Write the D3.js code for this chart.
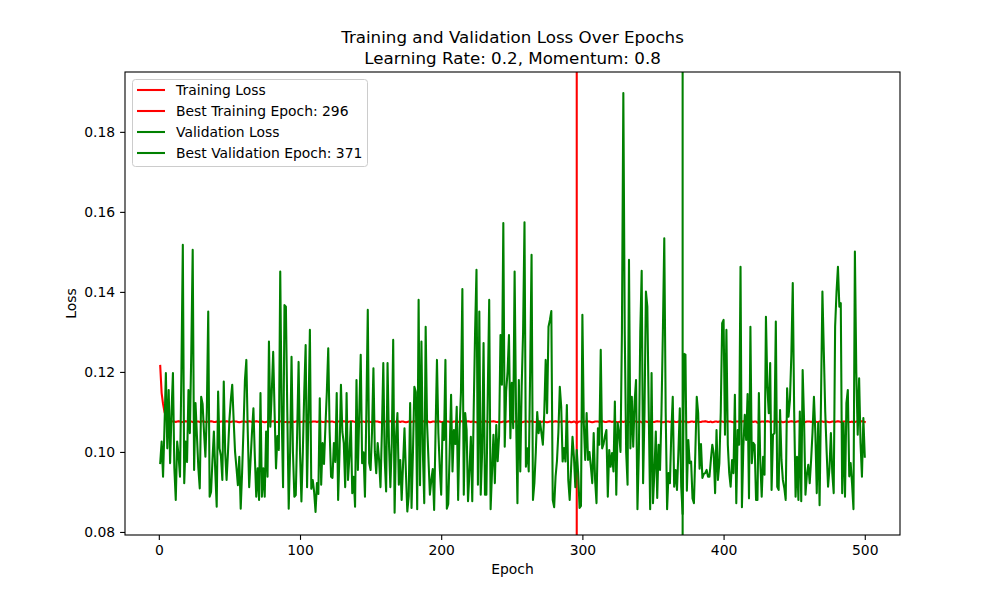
<!DOCTYPE html>
<html>
<head>
<meta charset="utf-8">
<script src="https://cdn.jsdelivr.net/npm/d3@7"></script>
<style>
  body { margin: 0; background: #fff; }
  svg { display: block; font-family: "DejaVu Sans", sans-serif; }
</style>
</head>
<body>
<svg id="chart" width="1000" height="600"></svg>
<script>
// ---------- data ----------
const titleLines = ["Training and Validation Loss Over Epochs", "Learning Rate: 0.2, Momentum: 0.8"];
const xLabel = "Epoch";
const yLabel = "Loss";
const xTicks = [0, 100, 200, 300, 400, 500];
const yTicks = [0.08, 0.10, 0.12, 0.14, 0.16, 0.18];
const bestTrainingEpoch = 296;
const bestValidationEpoch = 371;
const legendLabels = ["Training Loss", "Best Training Epoch: 296", "Validation Loss", "Best Validation Epoch: 371"];

const trainingLoss = [
.1215,.1147,.1120,.1100,.1090,.1084,.1080,.1078,.1077,.1076,
.1076,.1075,.1076,.1077,.1076,.1075,.1075,.1076,.1077,.1076,
.1075,.1076,.1076,.1075,.1074,.1075,.1076,.1076,.1075,.1076,
.1077,.1076,.1075,.1075,.1076,.1076,.1077,.1076,.1075,.1075,
.1076,.1074,.1075,.1076,.1076,.1075,.1076,.1077,.1076,.1075,
.1075,.1076,.1077,.1076,.1076,.1075,.1074,.1075,.1076,.1076,
.1076,.1075,.1076,.1077,.1076,.1075,.1075,.1076,.1077,.1076,
.1075,.1076,.1076,.1075,.1074,.1075,.1076,.1076,.1075,.1076,
.1077,.1076,.1075,.1075,.1076,.1076,.1077,.1076,.1075,.1075,
.1076,.1074,.1075,.1076,.1076,.1075,.1076,.1077,.1076,.1075,
.1075,.1076,.1077,.1076,.1076,.1075,.1074,.1075,.1076,.1076,
.1076,.1075,.1076,.1077,.1076,.1075,.1075,.1076,.1077,.1076,
.1075,.1076,.1076,.1075,.1074,.1075,.1076,.1076,.1075,.1076,
.1077,.1076,.1075,.1075,.1076,.1076,.1077,.1076,.1075,.1075,
.1076,.1074,.1075,.1076,.1076,.1075,.1076,.1077,.1076,.1075,
.1075,.1076,.1077,.1076,.1076,.1075,.1074,.1075,.1076,.1076,
.1076,.1075,.1076,.1077,.1076,.1075,.1075,.1076,.1077,.1076,
.1075,.1076,.1076,.1075,.1074,.1075,.1076,.1076,.1075,.1076,
.1077,.1076,.1075,.1075,.1076,.1076,.1077,.1076,.1075,.1075,
.1076,.1074,.1075,.1076,.1076,.1075,.1076,.1077,.1076,.1075,
.1075,.1076,.1077,.1076,.1076,.1075,.1074,.1075,.1076,.1076,
.1076,.1075,.1076,.1077,.1076,.1075,.1075,.1076,.1077,.1076,
.1075,.1076,.1076,.1075,.1074,.1075,.1076,.1076,.1075,.1076,
.1077,.1076,.1075,.1075,.1076,.1076,.1077,.1076,.1075,.1075,
.1076,.1074,.1075,.1076,.1076,.1075,.1076,.1077,.1076,.1075,
.1075,.1076,.1077,.1076,.1076,.1075,.1074,.1075,.1076,.1076,
.1076,.1075,.1076,.1077,.1076,.1075,.1075,.1076,.1077,.1076,
.1075,.1076,.1076,.1075,.1074,.1075,.1076,.1076,.1075,.1076,
.1077,.1076,.1075,.1075,.1076,.1076,.1077,.1076,.1075,.1075,
.1076,.1074,.1075,.1076,.1075,.1072,.1075,.1076,.1076,.1075,
.1075,.1076,.1077,.1076,.1076,.1075,.1074,.1075,.1076,.1076,
.1076,.1075,.1076,.1077,.1076,.1075,.1075,.1076,.1077,.1076,
.1075,.1076,.1076,.1075,.1074,.1075,.1076,.1076,.1075,.1076,
.1077,.1076,.1075,.1075,.1076,.1076,.1077,.1076,.1075,.1075,
.1076,.1074,.1075,.1076,.1076,.1075,.1076,.1077,.1076,.1075,
.1075,.1076,.1077,.1076,.1076,.1075,.1074,.1075,.1076,.1076,
.1076,.1075,.1076,.1077,.1076,.1075,.1075,.1076,.1077,.1076,
.1075,.1076,.1076,.1075,.1074,.1075,.1076,.1076,.1075,.1076,
.1077,.1076,.1075,.1075,.1076,.1076,.1077,.1076,.1075,.1075,
.1076,.1074,.1075,.1076,.1076,.1075,.1076,.1077,.1076,.1075,
.1075,.1076,.1077,.1076,.1076,.1075,.1074,.1075,.1076,.1076,
.1076,.1075,.1076,.1077,.1076,.1075,.1075,.1076,.1077,.1076,
.1075,.1076,.1076,.1073,.1074,.1075,.1076,.1076,.1075,.1076,
.1077,.1076,.1075,.1075,.1076,.1076,.1077,.1076,.1075,.1075,
.1076,.1074,.1075,.1076,.1076,.1075,.1076,.1077,.1076,.1075,
.1075,.1076,.1077,.1076,.1076,.1075,.1074,.1075,.1076,.1076,
.1076,.1075,.1076,.1077,.1076,.1075,.1075,.1076,.1077,.1076,
.1075,.1076,.1076,.1075,.1074,.1075,.1076,.1076,.1075,.1076,
.1077,.1076,.1075,.1075,.1076,.1076,.1077,.1076,.1075,.1075,
.1076,.1074,.1075,.1076,.1076,.1075,.1076,.1077,.1076,.1075
];

const validationLoss = [
.0972,.1026,.0938,.1060,.1197,.1009,.1155,.0972,.1100,.1197,
.0960,.0880,.1026,.0990,.0938,.1200,.1518,.0922,.1026,.0975,
.1155,.1047,.1250,.1505,.0955,.1122,.1040,.0960,.0909,.1138,
.1120,.1050,.0988,.1100,.1351,.0888,.0900,.0980,.1051,.0950,
.0863,.1151,.1009,.0990,.0930,.1176,.1000,.0930,.1000,.1080,
.1130,.1168,.1080,.1000,.0960,.0917,.0988,.0858,.0950,.1060,
.1180,.1230,.1050,.0912,.0980,.1050,.1109,.0990,.0888,.0959,
.0880,.1147,.0888,.0959,.0888,.1051,.0938,.1276,.1063,.1150,
.1250,.1100,.0959,.1040,.1005,.1451,.1100,.0912,.1367,.1363,
.1100,.0858,.1000,.1238,.1000,.0888,.0892,.1050,.1225,.1000,
.0876,.1000,.1150,.1267,.0912,.1100,.1305,.0908,.0930,.0900,
.0850,.0922,.0895,.1134,.0918,.1022,.0970,.1063,.1150,.1259,
.1050,.0938,.0935,.1022,.0975,.1147,.0880,.1000,.1168,.1050,
.1022,.0912,.1147,.0930,.0990,.1076,.0897,.0938,.0863,.1180,
.0955,.1100,.1243,.0972,.0999,.0888,.1100,.1355,.0972,.0955,
.1050,.1209,.1000,.0947,.1022,.0980,.0912,.1050,.1222,.0980,
.0901,.1222,.1022,.0912,.1022,.1280,.0848,.1038,.1097,.0918,
.0980,.0880,.0970,.1059,.0950,.0851,.0890,.1122,.0860,.1000,
.1163,.1150,.0857,.1380,.0917,.1276,.1000,.0872,.1313,.1070,
.0980,.0893,.0930,.0957,.0855,.1050,.1230,.1047,.0960,.0893,
.1073,.1030,.1230,.0858,.0870,.1000,.1143,.0951,.1055,.1020,
.1113,.0880,.1055,.1150,.1407,.0893,.1097,.1055,.0877,.0950,
.1038,.0877,.1100,.1300,.1455,.0918,.1351,.0893,.1000,.1272,
.0893,.0893,.1150,.1380,.0857,.0950,.1043,.0922,.1067,.0977,
.1040,.1292,.1168,.1572,.1013,.1151,.1200,.1292,.1034,.1173,
.1059,.1451,.1100,.0872,.1180,.0951,.1163,.1300,.1574,.0963,
.1009,.0951,.1200,.1493,.0880,.0922,.1000,.1100,.1047,.1076,
.1047,.1018,.1097,.1230,.1097,.1313,.1330,.1352,.0880,.0862,
.0938,.0978,.1050,.1163,.1113,.0976,.1010,.0976,.1117,.0930,
.0880,.0960,.1038,.0988,.0912,.1005,.0947,.0860,.0865,.1343,
.1072,.0980,.1097,.0980,.1000,.0963,.0922,.1047,.0930,.0872,
.1059,.1018,.1255,.1009,.1020,.1040,.1055,.0888,.1005,.0963,
.0997,.0951,.1126,.0893,.1072,.1047,.1000,.1300,.1897,.1300,
.1000,.0918,.1480,.1009,.1138,.1013,.1126,.1180,.0857,.1000,
.1300,.1453,.0922,.1100,.1401,.1363,.1100,.0857,.1197,.0872,
.0950,.1051,.0885,.1018,.0955,.1097,.1300,.1534,.1100,.0857,
.0947,.0922,.1050,.1138,.0913,.0955,.0905,.1000,.1109,.0913,
.0845,.1245,.1243,.0903,.1030,.0972,.0976,.0884,.0872,.1000,
.1138,.1097,.0958,.1020,.0935,.0945,.0947,.0955,.0938,.0938,
.0980,.1018,.0997,.0897,.1055,.0930,.0972,.1100,.1322,.1330,
.1043,.1305,.1018,.0947,.0913,.0980,.0947,.1143,.0872,.1055,
.1018,.1463,.0862,.1013,.1093,.1030,.1145,.0884,.1313,.0972,
.1023,.1018,.0880,.0880,.1147,.0976,.0888,.0988,.0943,.1338,
.1163,.1097,.1222,.0905,.1043,.1047,.1326,.0913,.0905,.1105,
.0980,.0930,.0910,.0880,.1159,.1088,.1130,.1243,.1422,.1100,
.0888,.0988,.0880,.1101,.0877,.1205,.1080,.0893,.0943,.0968,
.0922,.0980,.1050,.1138,.1047,.0897,.1072,.0867,.1130,.1401,
.1250,.1100,.1000,.0913,.0960,.1047,.0947,.0897,.1313,.1400,
.1463,.1363,.1372,.0897,.1072,.0888,.1122,.1155,.0939,.0972,
.0920,.0857,.1501,.1200,.1043,.1184,.1022,.0938,.1085,.0988
];

const epochs = trainingLoss.map((_, i) => i + 1);

// ---------- layout ----------
const W = 1000, H = 600;
const m = { left: 125, right: 900, top: 72, bottom: 535 };
const svg = d3.select("#chart");

const xExt = d3.extent(epochs);
const xPad = (xExt[1] - xExt[0]) * 0.05;
const allY = trainingLoss.concat(validationLoss);
const yExt = d3.extent(allY);
const yPad = (yExt[1] - yExt[0]) * 0.05;

const x = d3.scaleLinear().domain([xExt[0] - xPad, xExt[1] + xPad]).range([m.left, m.right]);
const y = d3.scaleLinear().domain([yExt[0] - yPad, yExt[1] + yPad]).range([m.bottom, m.top]);

const fontTick = 13.9;

// clip
svg.append("defs").append("clipPath").attr("id", "clip")
  .append("rect").attr("x", m.left).attr("y", m.top)
  .attr("width", m.right - m.left).attr("height", m.bottom - m.top);

const plot = svg.append("g").attr("clip-path", "url(#clip)");

const line = d3.line().x((d, i) => x(epochs[i])).y(d => y(d));

plot.append("path").datum(trainingLoss)
  .attr("d", line).attr("fill", "none").attr("stroke", "#ff0000")
  .attr("stroke-width", 2.08).attr("stroke-linejoin", "round").attr("stroke-linecap", "square");

plot.append("line")
  .attr("x1", x(bestTrainingEpoch)).attr("x2", x(bestTrainingEpoch))
  .attr("y1", m.top).attr("y2", m.bottom)
  .attr("stroke", "#ff0000").attr("stroke-width", 2.08);

plot.append("path").datum(validationLoss)
  .attr("d", line).attr("fill", "none").attr("stroke", "#008000")
  .attr("stroke-width", 2.08).attr("stroke-linejoin", "round").attr("stroke-linecap", "square");

plot.append("line")
  .attr("x1", x(bestValidationEpoch)).attr("x2", x(bestValidationEpoch))
  .attr("y1", m.top).attr("y2", m.bottom)
  .attr("stroke", "#008000").attr("stroke-width", 2.08);

// axes
const xAxis = d3.axisBottom(x).tickValues(xTicks).tickSize(4.9).tickPadding(4.9).tickFormat(d3.format("d"));
const yAxis = d3.axisLeft(y).tickValues(yTicks).tickSize(4.9).tickPadding(4.9).tickFormat(d3.format(".2f"));

const gx = svg.append("g").attr("transform", `translate(0,${m.bottom})`).call(xAxis);
const gy = svg.append("g").attr("transform", `translate(${m.left},0)`).call(yAxis);
[gx, gy].forEach(g => {
  g.select(".domain").remove();
  g.selectAll(".tick line").attr("stroke", "#000").attr("stroke-width", 1.1);
  g.selectAll(".tick text").attr("fill", "#000").style("font-size", fontTick + "px")
    .style("font-family", "'DejaVu Sans', sans-serif");
});

// spines
svg.append("rect").attr("x", m.left).attr("y", m.top)
  .attr("width", m.right - m.left).attr("height", m.bottom - m.top)
  .attr("fill", "none").attr("stroke", "#000").attr("stroke-width", 1.1);

// labels
svg.append("text").attr("x", (m.left + m.right) / 2).attr("y", 574)
  .attr("text-anchor", "middle").style("font-size", fontTick + "px").text(xLabel);
svg.append("text").attr("transform", `translate(76,${(m.top + m.bottom) / 2}) rotate(-90)`)
  .attr("text-anchor", "middle").style("font-size", fontTick + "px").text(yLabel);

// title
svg.append("text").attr("x", (m.left + m.right) / 2).attr("y", 43)
  .attr("text-anchor", "middle").style("font-size", "16.7px").text(titleLines[0]);
svg.append("text").attr("x", (m.left + m.right) / 2).attr("y", 64)
  .attr("text-anchor", "middle").style("font-size", "16.7px").text(titleLines[1]);

// legend
const legendColors = ["#ff0000", "#ff0000", "#008000", "#008000"];
const lg = svg.append("g");
lg.append("rect").attr("x", 132.5).attr("y", 79.5).attr("width", 235).attr("height", 87)
  .attr("rx", 3).attr("fill", "#fff").attr("fill-opacity", 0.8)
  .attr("stroke", "#cccccc").attr("stroke-width", 1);
legendLabels.forEach((lab, i) => {
  const cy = 90 + i * 21;
  lg.append("line").attr("x1", 137).attr("x2", 165).attr("y1", cy).attr("y2", cy)
    .attr("stroke", legendColors[i]).attr("stroke-width", 2.08);
  lg.append("text").attr("x", 176).attr("y", cy).attr("dy", "0.36em")
    .style("font-size", fontTick + "px").text(lab);
});
</script>
</body>
</html>
